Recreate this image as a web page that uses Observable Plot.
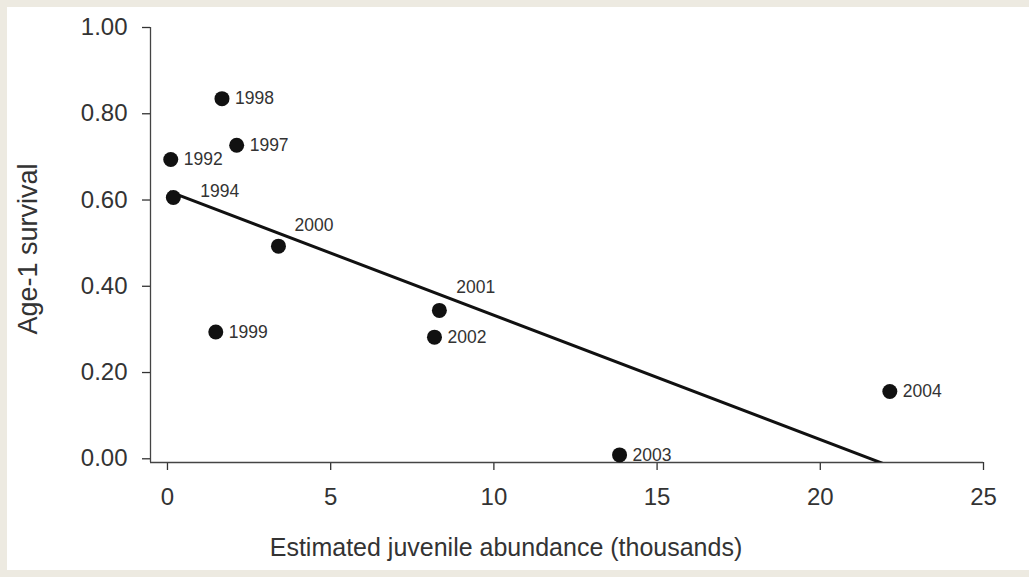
<!DOCTYPE html>
<html>
<head>
<meta charset="utf-8">
<script src="https://cdn.jsdelivr.net/npm/d3@7"></script>
<script src="https://cdn.jsdelivr.net/npm/@observablehq/plot@0.6"></script>
<style>
  html, body { margin: 0; padding: 0; background: #edeae1; }
  #panel { position: absolute; left: 7px; top: 7px; width: 1022px; height: 563px; background: #ffffff; }
  #panel svg { display: block; }
</style>
</head>
<body>
<div id="panel"></div>
<script>
// Survival of age-1 fish against estimated juvenile abundance, by year class
const years     = [1992, 1994, 1997, 1998, 1999, 2000, 2001, 2002, 2003, 2004];
const abundance = [0.10, 0.18, 2.12, 1.67, 1.48, 3.40, 8.33, 8.18, 13.85, 22.13]; // thousands
const survival  = [0.694, 0.606, 0.727, 0.835, 0.294, 0.493, 0.344, 0.282, 0.009, 0.156];

const xTicks = [0, 5, 10, 15, 20, 25];
const yTicks = [0, 0.2, 0.4, 0.6, 0.8, 1.0];

const xTitle = "Estimated juvenile abundance (thousands)";
const yTitle = "Age-1 survival";

const rows = years.map((year, i) => ({year, x: abundance[i], y: survival[i]}));

// labels sitting above-right of their point rather than level with it
const raised = {1994: [27, -6], 2000: [16, -21], 2001: [17, -23]};
const levelRows = rows.filter(d => !(d.year in raised));
const raisedRows = rows.filter(d => d.year in raised);

const xMin = -0.52, yMin = -0.0086;
const font = "'Liberation Sans', Arial, Helvetica, sans-serif";

const chart = Plot.plot({
  width: 1022,
  height: 563,
  marginLeft: 143,
  marginRight: 46,
  marginTop: 20,
  marginBottom: 108,
  style: {fontFamily: font, color: "#333", background: "#ffffff"},
  x: {domain: [xMin, 25], label: null},
  y: {domain: [yMin, 1], label: null},
  marks: [
    Plot.axisY({ticks: yTicks, tickFormat: d3.format(".2f"), tickSize: 8, tickPadding: 15,
                fontSize: 24, strokeWidth: 1.3, label: null}),
    Plot.axisX({ticks: xTicks, tickFormat: d3.format("d"), tickSize: 8, tickPadding: 17,
                fontSize: 24, strokeWidth: 1.3, label: null}),
    Plot.ruleX([xMin], {stroke: "#444", strokeWidth: 1.3}),
    Plot.ruleY([yMin], {stroke: "#444", strokeWidth: 1.3}),
    // least-squares fit through all year classes
    Plot.linearRegressionY(rows, {x: "x", y: "y", ci: 0, stroke: "#111", strokeWidth: 3, clip: true}),
    Plot.dot(rows, {x: "x", y: "y", r: 7.5, fill: "#111", stroke: "none"}),
    Plot.text(levelRows, {x: "x", y: "y", text: d => String(d.year), dx: 13, textAnchor: "start",
                          fontSize: 17.5, fill: "#333"}),
    ...raisedRows.map(d => Plot.text([d], {x: "x", y: "y", text: r => String(r.year),
                          dx: raised[d.year][0], dy: raised[d.year][1], textAnchor: "start",
                          fontSize: 17.5, fill: "#333"})),
    Plot.text([xTitle], {frameAnchor: "bottom", dx: -61, dy: 93, lineAnchor: "bottom",
                         textAnchor: "middle", fontSize: 25, fill: "#333"}),
    Plot.text([yTitle], {frameAnchor: "left", dx: -122, dy: 4, rotate: -90,
                         textAnchor: "middle", fontSize: 27, fill: "#333"})
  ]
});

document.getElementById("panel").append(chart);
</script>
</body>
</html>
